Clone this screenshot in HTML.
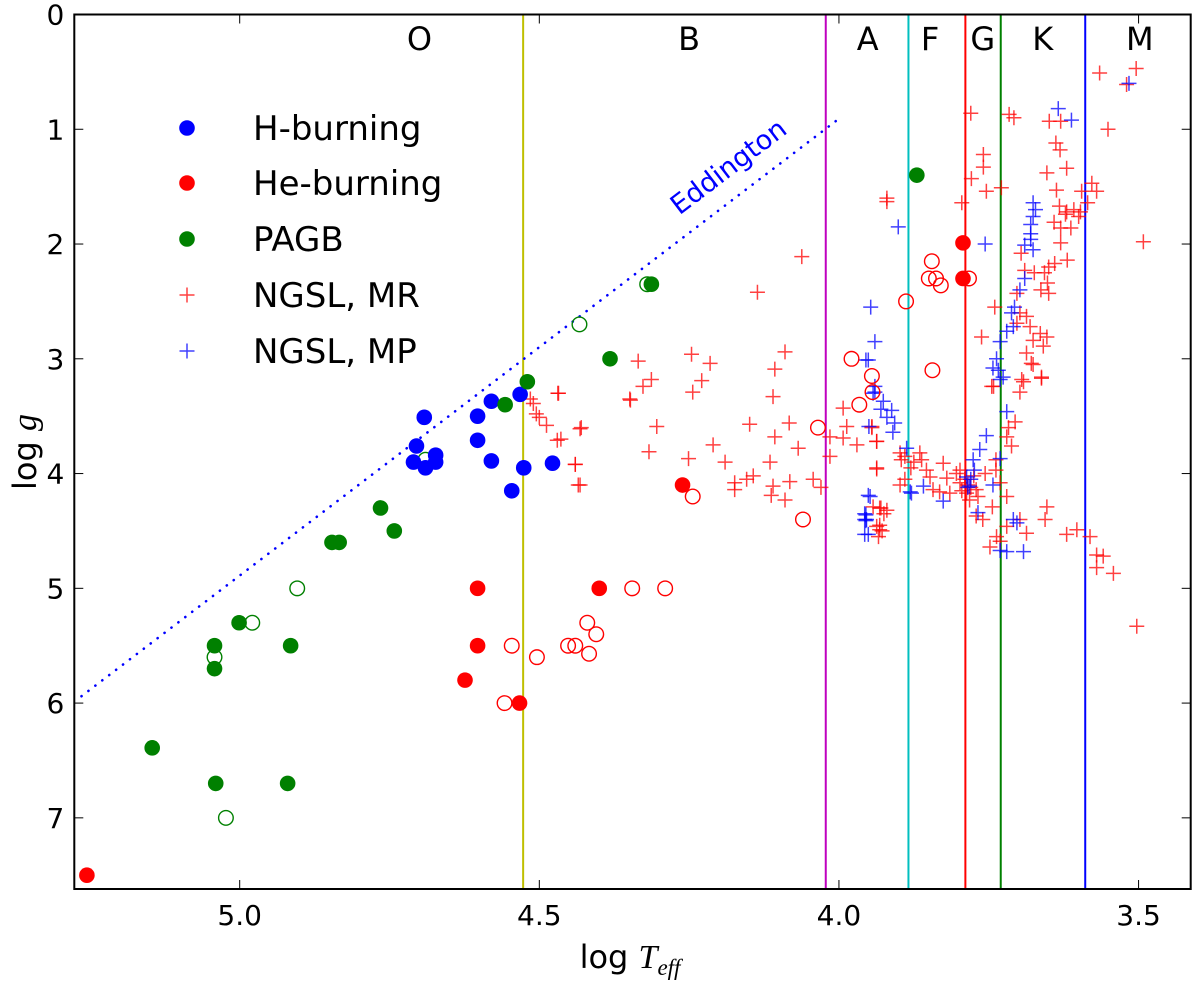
<!DOCTYPE html>
<html><head><meta charset="utf-8">
<style>
html,body{margin:0;padding:0;background:#fff;}
svg{display:block;font-family:"DejaVu Sans","Liberation Sans",sans-serif;}
</style></head>
<body>
<svg id="chart" width="1200" height="982" viewBox="0 0 1200 982">
</svg>
<script>
// ---- data ----
const hbX=[4.692,4.705,4.71,4.69,4.673,4.673,4.603,4.603,4.58,4.58,4.532,4.526,4.546,4.478];
const hbY=[3.51,3.76,3.90,3.95,3.84,3.90,3.50,3.71,3.37,3.89,3.31,3.95,4.15,3.91];
const heX=[4.603,4.40,4.603,4.624,4.533,4.261,3.793,3.793,5.255];
const heY=[5.0,5.0,5.5,5.8,6.0,4.10,1.99,2.30,7.5];
const heOpenX=[4.345,4.29,4.42,4.405,4.452,4.44,4.417,4.546,4.504,4.558,4.244,4.06,4.035,3.979,3.945,3.944,3.966,3.888,3.783,3.845,3.85,3.838,3.83,3.844];
const heOpenY=[5.0,5.0,5.3,5.4,5.5,5.5,5.57,5.5,5.6,6.0,4.20,4.40,3.60,3.00,3.15,3.29,3.40,2.50,2.30,2.15,2.30,2.30,2.36,3.10];
const pagbX=[4.52,4.557,4.382,4.765,4.742,4.846,4.834,5.001,5.042,5.042,4.915,4.313,3.87,5.146,5.04,4.92];
const pagbY=[3.20,3.40,3.00,4.30,4.50,4.60,4.60,5.30,5.50,5.70,5.50,2.35,1.40,6.39,6.70,6.70];
const pagbOpenX=[4.433,4.904,4.979,5.042,4.69,4.32,5.023];
const pagbOpenY=[2.70,5.0,5.30,5.60,3.88,2.35,7.0];
const mrX=[4.469,4.432,4.47,4.44,4.435,4.515,4.51,4.505,4.50,4.488,4.349,
4.062,4.136,4.335,4.246,4.215,4.313,4.327,4.229,4.244,4.348,4.468,4.09,4.107,4.11,4.43,4.304,4.464,4.149,4.083,4.107,4.21,4.068,4.317,4.251,4.19,4.115,4.44,4.432,4.174,4.154,4.143,4.174,4.11,4.113,4.082,4.09,4.043,4.03,4.015,4.015,3.993,3.987,3.993,3.97,3.945,3.937,3.937,3.92,3.93,3.925,3.932,3.928,3.89,3.88,3.89,3.875,
3.565,3.504,3.52,3.551,3.78,3.716,3.708,3.649,3.63,3.638,3.631,3.759,3.759,3.779,3.754,3.729,3.795,3.92,3.653,3.62,3.637,3.578,3.57,3.595,3.632,3.62,3.608,3.597,3.585,3.641,3.63,3.613,3.622,3.60,3.492,3.63,3.619,3.65,3.64,3.696,3.69,3.674,3.657,3.652,3.663,3.65,3.74,3.703,3.698,3.687,3.703,3.681,3.664,3.653,3.676,3.659,3.687,3.679,3.662,3.695,3.742,3.762,
3.676,3.662,3.692,3.698,3.745,3.717,3.706,3.712,3.72,3.945,3.937,3.937,3.653,3.656,3.698,3.687,3.72,3.737,3.748,3.731,3.62,3.603,3.581,3.57,3.559,3.57,3.542,3.503,3.943,3.932,3.92,3.937,3.932,3.934,
3.898,3.896,3.865,3.862,3.898,3.854,3.848,3.826,3.82,3.815,3.804,3.798,3.787,3.782,3.771,3.76,3.744,3.738,3.738,3.731,3.72,3.756,3.771,3.798,3.832,3.843,3.79,3.785,3.78,3.775,3.795,3.768];
const mrY=[3.30,3.61,3.71,3.92,4.10,3.35,3.39,3.48,3.51,3.58,3.35,
2.11,2.42,3.02,2.96,3.04,3.18,3.24,3.19,3.29,3.36,3.30,2.94,3.09,3.33,3.60,3.59,3.70,3.57,3.56,3.68,3.75,3.78,3.81,3.87,3.90,3.90,3.92,4.10,4.08,4.05,4.02,4.14,4.11,4.19,4.07,4.23,4.05,4.12,3.68,3.85,3.43,3.59,3.69,3.75,3.59,3.72,3.96,1.63,4.30,4.35,4.45,4.50,3.85,3.95,4.05,3.90,
0.51,0.47,0.61,1.00,0.86,0.87,0.90,0.93,0.93,1.12,1.18,1.22,1.33,1.43,1.54,1.51,1.64,1.60,1.38,1.34,1.53,1.47,1.54,1.54,1.67,1.72,1.70,1.72,1.64,1.81,1.86,1.86,1.74,1.76,1.98,1.99,2.14,2.20,2.17,2.08,2.23,2.25,2.25,2.34,2.40,2.43,2.55,2.43,2.60,2.63,2.69,2.72,2.78,2.81,2.84,2.89,2.95,3.04,3.16,3.18,3.24,2.81,
3.05,3.17,3.20,3.29,3.24,3.60,3.55,3.76,3.68,3.60,3.72,3.95,4.29,4.40,4.40,4.52,4.46,4.55,4.64,4.59,4.53,4.49,4.55,4.71,4.72,4.82,4.87,5.33,4.29,4.30,4.32,4.46,4.49,4.55,
3.82,3.88,3.82,3.88,4.10,3.97,4.03,3.91,4.04,4.17,4.00,4.08,4.17,4.23,4.37,4.40,4.29,3.88,3.97,4.08,4.20,4.00,4.14,3.97,4.16,4.14,4.05,4.10,4.12,4.02,4.15,4.20];
const mpX=[3.901,3.947,3.94,3.955,3.94,3.93,3.92,3.91,3.95,3.951,3.955,3.955,3.951,3.957,3.881,
3.516,3.634,3.612,3.756,3.676,3.672,3.676,3.68,3.68,3.68,3.69,3.676,3.69,3.698,3.707,3.712,3.709,3.72,3.731,3.737,3.743,3.726,
3.951,3.94,3.943,3.926,3.912,3.907,3.948,3.957,3.954,3.957,
3.887,3.879,3.859,3.826,3.768,3.765,3.754,3.776,3.787,3.782,3.774,3.743,3.731,3.734,3.731,3.72,3.709,3.703,3.72,3.692,3.731,3.78,3.785];
const mpY=[1.85,2.55,2.85,3.01,3.29,3.44,3.51,3.64,3.59,4.19,4.36,4.41,4.53,4.40,4.16,
0.60,0.82,0.92,2.00,1.64,1.70,1.76,1.83,1.91,1.96,2.01,2.05,2.30,2.40,2.55,2.60,2.72,2.76,2.85,3.00,3.08,3.16,
3.01,3.24,3.30,3.37,3.45,3.56,4.20,4.35,4.40,4.53,
3.78,4.17,4.11,4.24,4.34,3.79,3.67,3.88,4.03,4.11,3.97,4.10,3.87,3.10,3.18,3.46,4.40,4.43,4.68,4.68,4.67,4.05,4.12];
const classBounds=[4.527,4.022,3.884,3.789,3.730,3.589];
const classColors=["#bfbf00","#bf00bf","#00bfbf","#ff0000","#008000","#0000ff"];
const classNames=["O","B","A","F","G","K","M"];
const classPos=[4.70,4.25,3.952,3.848,3.76,3.66,3.498];
const xTicks=[5.0,4.5,4.0,3.5];
const xTickLabels=["5.0","4.5","4.0","3.5"];
const yTicks=[0,1,2,3,4,5,6,7];
const eddX=[5.264,3.998];
const eddY=[5.94,0.90];

// ---- axes ----
const L=74.3,R=1190.7,T=14.5,B=889;
const xMin=5.276,xMax=3.413,yMin=0,yMax=7.62;
const sx=v=>L+(xMin-v)/(xMin-xMax)*(R-L);
const sy=g=>T+(g-yMin)/(yMax-yMin)*(B-T);
const NS="http://www.w3.org/2000/svg";
const svg=document.getElementById('chart');
function mk(tag,attrs,parent){const e=document.createElementNS(NS,tag);for(const k in attrs)e.setAttribute(k,attrs[k]);(parent||svg).appendChild(e);return e;}

const plot=mk('g',{});



classBounds.forEach((b,i)=>{
  const l=mk('line',{x1:sx(b),x2:sx(b),y1:T,y2:B,stroke:classColors[i],'stroke-width':2},plot);
  
  
});
classNames.forEach((n,i)=>{
  const t=mk('text',{x:sx(classPos[i]),y:50,'font-size':32,'text-anchor':'middle',fill:'#000'},plot);
  t.textContent=n;
  
  
});

const ed=mk('line',{x1:sx(eddX[0]),y1:sy(eddY[0]),x2:sx(eddX[1]),y2:sy(eddY[1]),stroke:'#0000ff','stroke-width':2.6,'stroke-dasharray':'0.1 8.6','stroke-linecap':'round'},plot);


const ang=Math.atan2(sy(eddY[1])-sy(eddY[0]),sx(eddX[1])-sx(eddX[0]))*180/Math.PI;
const et=mk('text',{x:0,y:0,'font-size':27,fill:'#0000ff','text-anchor':'middle',transform:`translate(734,174) rotate(${ang})`},plot);
et.textContent='Eddington';



function plus(x,y,color,name,parent){
  const g=mk('path',{d:`M${x-7.5},${y}H${x+7.5}M${x},${y-7.5}V${y+7.5}`,stroke:color,'stroke-width':1.5,fill:'none','stroke-opacity':0.75},parent);
  
  
}
function dot(x,y,color,open,name,parent){
  const c=mk('circle',{cx:x,cy:y,r:open?7.3:7.8,fill:open?'none':color,stroke:color,'stroke-width':open?1.4:0},parent);
  
  
}
mrX.forEach((v,i)=>plus(sx(v),sy(mrY[i]),'#ff0000','ngsl-mr-point',plot));
mpX.forEach((v,i)=>plus(sx(v),sy(mpY[i]),'#0000ff','ngsl-mp-point',plot));
heOpenX.forEach((v,i)=>dot(sx(v),sy(heOpenY[i]),'#ff0000',true,'he-burning-open-point',plot));
pagbOpenX.forEach((v,i)=>dot(sx(v),sy(pagbOpenY[i]),'#008000',true,'pagb-open-point',plot));
hbX.forEach((v,i)=>dot(sx(v),sy(hbY[i]),'#0000ff',false,'h-burning-point',plot));
heX.forEach((v,i)=>dot(sx(v),sy(heY[i]),'#ff0000',false,'he-burning-point',plot));
pagbX.forEach((v,i)=>dot(sx(v),sy(pagbY[i]),'#008000',false,'pagb-point',plot));

const fr=mk('rect',{x:L,y:T,width:R-L,height:B-T,fill:'none',stroke:'#000','stroke-width':2});



xTicks.forEach((v,i)=>{
  const x=sx(v);
  const t1=mk('line',{x1:x,x2:x,y1:B,y2:B-9,stroke:'#000','stroke-width':1});
  
  
  const t2=mk('line',{x1:x,x2:x,y1:T,y2:T+9,stroke:'#000','stroke-width':1});
  
  
  const lb=mk('text',{x:x,y:925,'font-size':28,'text-anchor':'middle',fill:'#000'});
  lb.textContent=xTickLabels[i];
  
  
});
yTicks.forEach(v=>{
  const y=sy(v);
  const t1=mk('line',{x1:L,x2:L+9,y1:y,y2:y,stroke:'#000','stroke-width':1});
  
  
  const t2=mk('line',{x1:R,x2:R-9,y1:y,y2:y,stroke:'#000','stroke-width':1});
  
  
  const lb=mk('text',{x:L-10,y:y+10,'font-size':28,'text-anchor':'end',fill:'#000'});
  lb.textContent=String(v);
  
  
});

const xt=mk('text',{x:630,y:968,'font-size':32,'text-anchor':'middle',fill:'#000'});
xt.innerHTML='log <tspan font-family="Liberation Serif, serif" font-style="italic" font-size="34">T</tspan><tspan font-family="Liberation Serif, serif" font-style="italic" font-size="23" dy="7">eff</tspan>';


const yt=mk('text',{x:0,y:0,'font-size':32,'text-anchor':'middle',fill:'#000',transform:'translate(36,452) rotate(-90)'});
yt.innerHTML='log <tspan font-family="Liberation Serif, serif" font-style="italic" font-size="34">g</tspan>';



const leg=mk('g',{});


const legNames=['H-burning','He-burning','PAGB','NGSL, MR','NGSL, MP'];
const legColors=['#0000ff','#ff0000','#008000','#ff0000','#0000ff'];
const legY=[128,183,239,295,351];
legNames.forEach((n,i)=>{
  if(i<3){dot(187,legY[i],legColors[i],false,'legend-marker',leg);}
  else{plus(187,legY[i],legColors[i],'legend-marker',leg);}
  const t=mk('text',{x:253,y:legY[i]+12,'font-size':34,fill:'#000'},leg);
  t.textContent=n;
  
  
});
</script>
</body></html>
